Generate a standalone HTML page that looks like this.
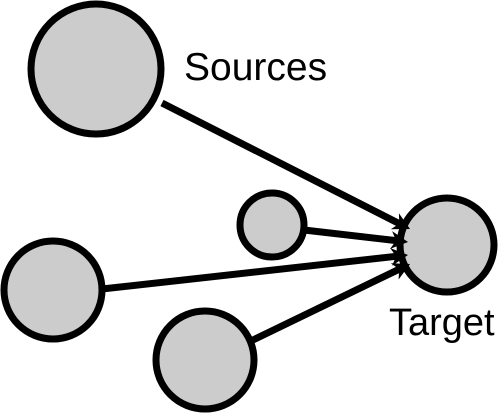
<!DOCTYPE html>
<html><head><style>body{margin:0;background:#fff}</style></head><body>
<svg width="499" height="414" viewBox="0 0 499 414" xmlns="http://www.w3.org/2000/svg">
<g stroke="#000" stroke-width="7" fill="#ccc">
<circle cx="96" cy="69" r="65"/>
<circle cx="272" cy="225" r="32"/>
<circle cx="53" cy="290" r="49"/>
<circle cx="205" cy="360" r="49"/>
<circle cx="447" cy="245" r="47"/>
</g>
<g stroke="#000" stroke-width="7" fill="none">
<line x1="162" y1="103" x2="399.3" y2="223.6"/>
<line x1="304" y1="230" x2="396.1" y2="240.6"/>
<line x1="102" y1="289" x2="396.1" y2="256.3"/>
<line x1="253" y1="340" x2="399.2" y2="269.2"/>
</g>
<g fill="#000">
<polygon points="410,229 390.8,229.3 399.3,223.6 398.9,213.3"/>
<polygon points="408,242 390.1,248.9 396.1,240.6 392.1,231.1"/>
<polygon points="408,255 392.1,265.8 396.1,256.3 390.1,248"/>
<polygon points="410,264 398.6,279.5 399.2,269.2 390.8,263.3"/>
</g>
<text x="184" y="80" font-family="Liberation Sans, sans-serif" font-size="39" fill="#000">Sources</text>
<text x="389" y="335" font-family="Liberation Sans, sans-serif" font-size="38" fill="#000">Target</text>
</svg>
</body></html>
